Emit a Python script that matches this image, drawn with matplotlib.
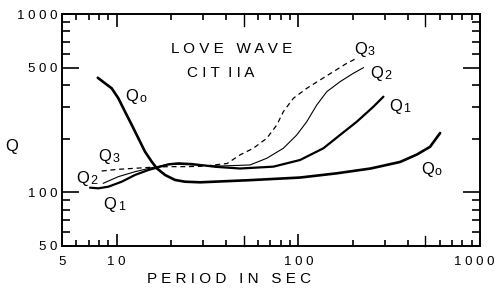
import matplotlib
matplotlib.use("Agg")
import matplotlib.pyplot as plt
from matplotlib.ticker import FixedLocator, NullFormatter, FixedFormatter
from matplotlib.transforms import offset_copy, ScaledTranslation

# ---- data (period in s, Q) ----
q0_period = [7.87, 8.62, 9.39, 10.21, 11.12, 12.11, 13.16, 14.32, 15.59, 16.62, 18.46,
             20.95, 23.78, 28.8, 54, 102, 162.7, 250, 363, 450, 531, 603]
q0_q      = [439, 409, 383, 337, 283, 238.5, 201, 169, 148.6, 136.4, 125.1,
             117.3, 114.7, 113.8, 117, 121, 127.8, 136, 148, 163, 180, 215]

q1_period = [7.13, 7.92, 8.99, 10.66, 12.61, 14.94, 16.62, 19.24, 21.84, 25.89, 35, 47.7,
             72.9, 102.2, 137.4, 169.7, 209.9, 259, 294]
q1_q      = [106.2, 105.3, 107.5, 114.7, 125.1, 133.4, 137.4, 143.6, 145.5, 144.2, 139, 136,
             139.3, 151.8, 176.6, 209.7, 249, 302.2, 343.8]

q2_period = [8.44, 10.21, 12.61, 15.59, 18.46, 21.84, 25.89, 38, 54.2, 67.0, 82.7, 98.0,
             111.3, 126.3, 143.4, 169.7, 200.9, 228.1]
q2_q      = [112.4, 122.4, 130.5, 137.4, 142.4, 143.6, 142.4, 140.5, 142.4, 155.2, 176.6, 209.7,
             249, 309, 366.7, 417.3, 465.1, 500]

q3_period = [8.27, 10.21, 12.61, 15.59, 19.24, 23.78, 29.4, 40.5, 47.7, 56.5, 67.0, 76.1,
             82.7, 93.9, 111.3, 131.7, 155.9, 184.8, 209.9]
q3_q      = [131.7, 134.6, 136.4, 138.2, 139.3, 139.3, 140, 145, 162, 176.6, 200.9, 238.5,
             283.3, 336.8, 383.1, 426.7, 474.9, 529.2, 564.7]

x_tick_vals = [5, 10, 100, 1000]
x_tick_labels = ["5", "1 0", "1 0 0", "1 0 0 0"]
y_tick_vals = [50, 100, 500, 1000]
y_tick_labels = ["5 0", "1 0 0", "5 0 0", "1 0 0 0"]

FONT = "Liberation Sans"
plt.rcParams['font.family'] = [FONT, 'DejaVu Sans']

fig = plt.figure(figsize=(5.0, 2.88), dpi=100)
ax = fig.add_axes([62/500, 1-246/288, 418/500, 232/288])
ax.set_xscale('log')
ax.set_yscale('log')
ax.set_xlim(5, 1000)
ax.set_ylim(50, 1000)

ax.plot(q0_period, q0_q, color='black', lw=1.9, solid_capstyle='round', solid_joinstyle='round')
ax.plot(q1_period, q1_q, color='black', lw=1.6, solid_capstyle='round', solid_joinstyle='round')
ax.plot(q2_period, q2_q, color='black', lw=0.8, solid_joinstyle='round')
ax.plot(q3_period, q3_q, color='black', lw=0.9, dashes=(4, 3))

for s in ax.spines.values():
    s.set_linewidth(1.4)

# ticks
ax.xaxis.set_major_locator(FixedLocator(x_tick_vals))
ax.xaxis.set_major_formatter(FixedFormatter(x_tick_labels))
ax.xaxis.set_minor_locator(FixedLocator([6, 7, 8, 9, 20, 30, 40, 60, 70, 80, 90,
                                         200, 300, 400, 600, 700, 800, 900]))
ax.xaxis.set_minor_formatter(NullFormatter())
ax.yaxis.set_major_locator(FixedLocator(y_tick_vals))
ax.yaxis.set_major_formatter(FixedFormatter(y_tick_labels))
ax.yaxis.set_minor_locator(FixedLocator([60, 70, 80, 90, 200, 300, 400, 600, 700, 800, 900]))
ax.yaxis.set_minor_formatter(NullFormatter())

ax.tick_params(which='both', direction='in', top=True, right=True, width=1.2, color='black')
ax.tick_params(axis='x', which='major', length=9, pad=7, labelsize=9.5)
ax.tick_params(axis='x', which='minor', length=4.5)
ax.tick_params(axis='y', which='major', length=12, pad=3, labelsize=9.5)
ax.tick_params(axis='y', which='minor', length=5.5)

# shift the last x label slightly left (as in the original)
fig.canvas.draw()
last = ax.xaxis.get_major_ticks()[-1].label1
last.set_transform(last.get_transform() + ScaledTranslation(-4/72, 0, fig.dpi_scale_trans))

# extra longer ticks at 50 and 500 on x axis
for xv in (50, 500):
    ax.plot([xv, xv], [50, 50 * 10 ** (0.055)], color='black', lw=1.0, clip_on=False)
    ax.plot([xv, xv], [1000, 1000 * 10 ** (-0.07)], color='black', lw=1.0, clip_on=False)

# curve labels: "Q" plus a small index
def qlab(x, y, d):
    tq = offset_copy(ax.transData, fig=fig, x=-3.5, y=0, units='points')
    td = offset_copy(ax.transData, fig=fig, x=4.5, y=-1.8, units='points')
    ax.text(x, y, 'Q', fontsize=12, ha='center', va='center', transform=tq)
    ax.text(x, y, d, fontsize=9, ha='center', va='center', transform=td)

qlab(12.9, 343, 'o')
qlab(545, 135, 'o')
qlab(9.19, 158, '3')
qlab(6.95, 118.8, '2')
qlab(9.79, 86, '1')
qlab(233, 629, '3')
qlab(285.5, 461, '2')
qlab(363, 301, '1')

ax.text(0.4067, 0.849, "L O V E   W A V E", transform=ax.transAxes, fontsize=11,
        ha='center', va='center')
ax.text(0.380, 0.746, "C I T  I I A", transform=ax.transAxes, fontsize=11,
        ha='center', va='center')

fig.text(0.459, 1 - 279/288, "P E R I O D   I N   S E C", fontsize=11, ha='center', va='center')
fig.text(0.024, 1 - 147/288, "Q", fontsize=12, ha='center', va='center')

fig.savefig("out.png", dpi=100)
